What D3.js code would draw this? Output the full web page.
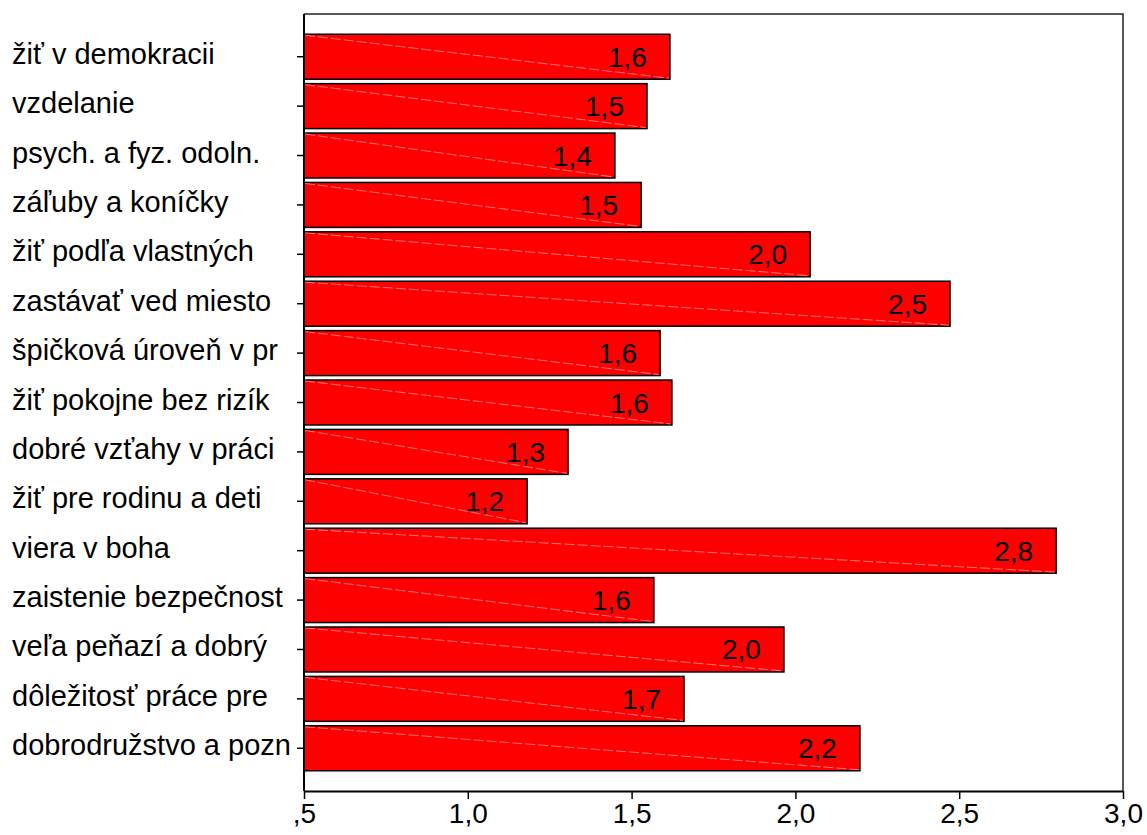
<!DOCTYPE html>
<html>
<head>
<meta charset="utf-8">
<script src="https://cdn.jsdelivr.net/npm/d3@7"></script>
<style>
  body { margin: 0; background: #fff; }
  text { font-family: "Liberation Sans", Arial, sans-serif; }
</style>
</head>
<body>
<div id="chart"></div>
<script>
var categories = ["žiť v demokracii", "vzdelanie", "psych. a fyz. odoln.", "záľuby a koníčky",
    "žiť podľa vlastných", "zastávať ved miesto", "špičková úroveň v pr", "žiť pokojne bez rizík",
    "dobré vzťahy v práci", "žiť pre rodinu a deti", "viera v boha", "zaistenie bezpečnost",
    "veľa peňazí a dobrý", "dôležitosť práce pre", "dobrodružstvo a pozn"];
var values = [1.617, 1.547, 1.449, 1.529, 2.045, 2.472, 1.587, 1.623, 1.306, 1.181, 2.796, 1.568, 1.965, 1.66, 2.197];
var xTicks = [0.5, 1.0, 1.5, 2.0, 2.5, 3.0];

var width = 1147, height = 835;
var plotLeft = 304, plotRight = 1123, plotTop = 14, plotBottom = 791;

var svg = d3.select("#chart").append("svg")
    .attr("width", width)
    .attr("height", height);

var x = d3.scaleLinear().domain([0.5, 3.0]).range([plotLeft, plotRight]);
var y = d3.scaleBand().domain(categories).range([plotTop, plotBottom])
    .paddingInner(0.09).paddingOuter(0.41);

function fmt(v) {
    var s = v.toFixed(1).replace(".", ",");
    return s.indexOf("0,") === 0 ? s.slice(1) : s;
}

// frame top + right
svg.append("path")
    .attr("d", "M" + plotLeft + "," + plotTop + "H" + plotRight + "V" + plotBottom)
    .attr("fill", "none")
    .attr("stroke", "#222")
    .attr("stroke-width", 1.5);

// bars
var bars = svg.append("g").selectAll("g")
    .data(values)
    .enter().append("g");

bars.append("rect")
    .attr("x", x(0.5))
    .attr("y", function(d, i) { return y(categories[i]); })
    .attr("width", function(d) { return x(d) - x(0.5); })
    .attr("height", y.bandwidth())
    .attr("fill", "#ff0000")
    .attr("stroke", "#000")
    .attr("stroke-width", 1.5);

// thin light diagonal inside each bar
bars.append("line")
    .attr("x1", x(0.5) + 1)
    .attr("y1", function(d, i) { return y(categories[i]) + 1; })
    .attr("x2", function(d) { return x(d) - 1; })
    .attr("y2", function(d, i) { return y(categories[i]) + y.bandwidth() - 1; })
    .attr("stroke", "#ffaaaa")
    .attr("stroke-width", 0.7)
    .attr("stroke-dasharray", "10,3");

bars.append("text")
    .attr("x", function(d) { return x(d) - 23; })
    .attr("y", function(d, i) { return y(categories[i]) + y.bandwidth() / 2 + 10; })
    .attr("text-anchor", "end")
    .attr("font-size", 28)
    .attr("fill", "#000")
    .text(function(d) { return fmt(d); });

// y axis
var yAxis = svg.append("g")
    .attr("transform", "translate(" + plotLeft + ",0)")
    .call(d3.axisLeft(y).tickSize(7).tickSizeOuter(0).tickFormat(""));
yAxis.select(".domain").attr("stroke", "#000").attr("stroke-width", 2)
    .attr("d", "M0," + plotTop + "V" + plotBottom);
yAxis.selectAll(".tick line").attr("stroke", "#000").attr("stroke-width", 1.5);

svg.append("g").selectAll("text")
    .data(categories)
    .enter().append("text")
    .attr("x", 12)
    .attr("y", function(d) { return y(d) + y.bandwidth() / 2 + 7; })
    .attr("font-size", 29)
    .attr("fill", "#000")
    .text(function(d) { return d; });

// x axis
var xAxis = svg.append("g")
    .attr("transform", "translate(0," + plotBottom + ")")
    .call(d3.axisBottom(x).tickValues(xTicks).tickSize(8).tickSizeOuter(0).tickFormat(fmt));
xAxis.select(".domain").attr("stroke", "#000").attr("stroke-width", 2);
xAxis.selectAll(".tick text")
    .attr("font-size", 28)
    .attr("font-family", "Liberation Sans, Arial, sans-serif")
    .attr("fill", "#000")
    .attr("y", 12);
xAxis.selectAll(".tick line").attr("stroke", "#000").attr("stroke-width", 1.5);
</script>
</body>
</html>
